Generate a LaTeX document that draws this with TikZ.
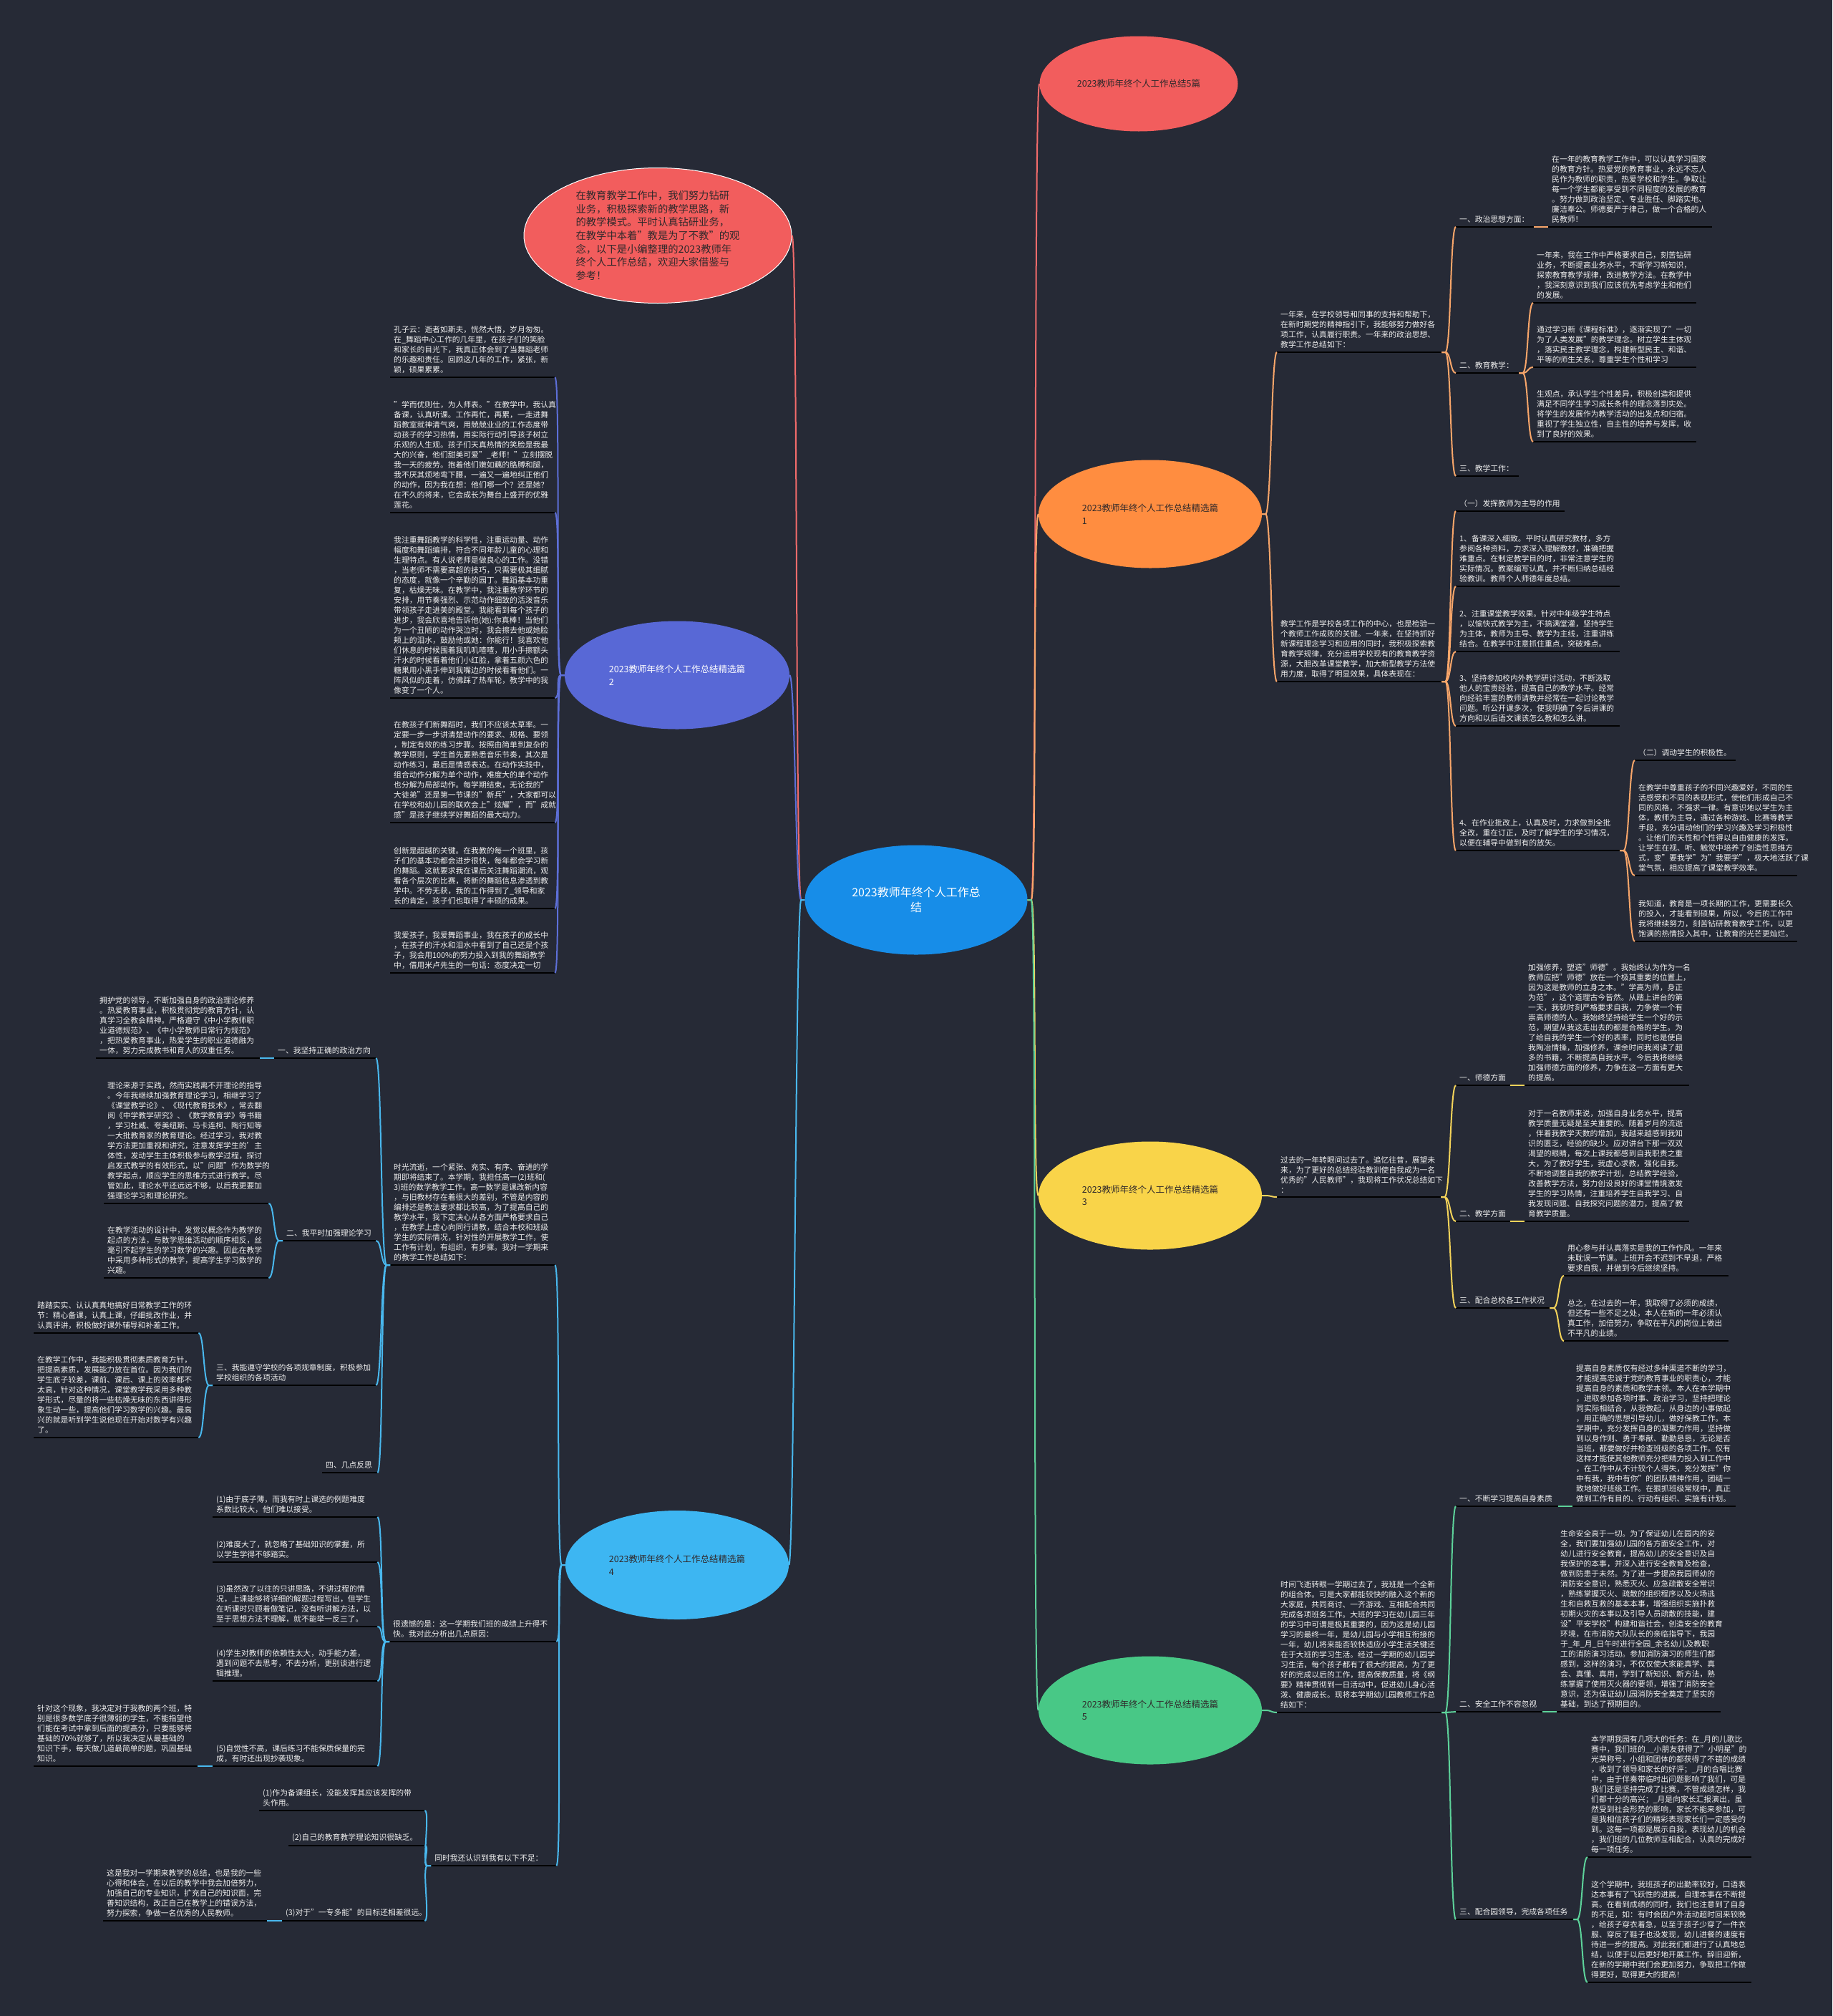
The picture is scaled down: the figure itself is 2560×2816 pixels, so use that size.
\documentclass[tikz,border=0pt]{standalone}
\usepackage{fontspec}
\setmainfont{Noto Sans CJK SC}
\usetikzlibrary{shapes.geometric}
\definecolor{bgcol}{HTML}{262A36}
\definecolor{leaftext}{HTML}{EEEEEE}
\definecolor{darktext}{HTML}{30292B}
\definecolor{cblue}{HTML}{178DE8}
\definecolor{cred}{HTML}{F25D5D}
\definecolor{corange}{HTML}{FF8D40}
\definecolor{cyellow}{HTML}{F9D449}
\definecolor{cgreen}{HTML}{48C886}
\definecolor{cindigo}{HTML}{5868D6}
\definecolor{clblue}{HTML}{3DB6F2}
\definecolor{lred}{HTML}{F26B6B}
\definecolor{lorange}{HTML}{F9A66A}
\definecolor{lyellow}{HTML}{F4D35A}
\definecolor{lgreen}{HTML}{5DD29A}
\definecolor{lindigo}{HTML}{5D6FD8}
\definecolor{llblue}{HTML}{49B8EE}
\newcommand\leaffont{\fontsize{10.8pt}{14pt}\selectfont}
\newcommand\bubfont{\fontsize{12.5pt}{17.5pt}\selectfont}
\newcommand\rootfont{\fontsize{16pt}{21pt}\selectfont}
\newcommand\introfont{\fontsize{14.3pt}{18.7pt}\selectfont}
\tikzset{
  uline/.style={draw=black,line width=2pt},
  leaf/.style={anchor=south west,inner xsep=5pt,inner ysep=5.5pt,
    text width=#1,align=left,font=\leaffont,text=leaftext,
    append after command={(\tikzlastnode.south west) edge[uline]
      (\tikzlastnode.south east)}},
  bub/.style={ellipse,inner sep=0pt,align=left,font=\bubfont,text=darktext},
  linkr/.style={draw=#1,line width=2pt,
    to path={-- ++(5,0) .. controls +(8,0) and +(-8,0) .. (\tikztotarget)}},
  linkl/.style={draw=#1,line width=2pt,
    to path={-- ++(-5,0) .. controls +(-8,0) and +(8,0) .. (\tikztotarget)}},
}
\begin{document}
\begin{tikzpicture}[x=1pt,y=-1pt]
  \fill[bgcol] (0,0) rectangle (2560,2816);
  \useasboundingbox (0,0) rectangle (2560,2816);
  % centre and the seven bubbles
  \node[bub,fill=cblue,minimum width=311pt,minimum height=153pt,align=center,
    font=\rootfont,text=white] (root) at (1280,1257) {2023教师年终个人工作总\\结};
  \node[bub,fill=cred,minimum width=277pt,minimum height=133pt] (b5p) at (1591,117)
    {2023教师年终个人工作总结5篇};
  \node[bub,fill=corange,minimum width=312pt,minimum height=151pt] (b1) at (1607,718)
    {2023教师年终个人工作总结精选篇\\1};
  \node[bub,fill=cyellow,minimum width=312pt,minimum height=151pt] (b3) at (1607,1670)
    {2023教师年终个人工作总结精选篇\\3};
  \node[bub,fill=cgreen,minimum width=312pt,minimum height=151pt] (b5) at (1607,2389)
    {2023教师年终个人工作总结精选篇\\5};
  \node[bub,fill=cred,draw=white,line width=1pt,minimum width=374pt,minimum height=189pt,
    font=\introfont] (intro) at (919,329)
    {在教育教学工作中，我们努力钻研\\业务，积极探索新的教学思路，新\\的教学模式。平时认真钻研业务，\\在教学中本着"教是为了不教"的观\\念，以下是小编整理的2023教师年\\终个人工作总结，欢迎大家借鉴与\\参考！};
  \node[bub,fill=cindigo,minimum width=314pt,minimum height=151pt,text=white] (b2) at (946,943)
    {2023教师年终个人工作总结精选篇\\2};
  \node[bub,fill=clblue,minimum width=312pt,minimum height=152pt] (b4) at (946,2186)
    {2023教师年终个人工作总结精选篇\\4};

  % branch 1
  \node[leaf=220pt] (r1a) at (1784,492) {一年来，在学校领导和同事的支持和帮助下，\\在新时期党的精神指引下，我能够努力做好各\\项工作，认真履行职责。一年来的政治思想、\\教学工作总结如下：};
  \node[leaf=99pt] (r1a1) at (2034,317) {一、政治思想方面：};
  \node[leaf=219pt] (r1a1x) at (2163,317) {在一年的教育教学工作中，可以认真学习国家\\的教育方针。热爱党的教育事业，永远不忘人\\民作为教师的职责，热爱学校和学生。争取让\\每一个学生都能享受到不同程度的发展的教育\\。努力做到政治坚定、专业胜任、脚踏实地、\\廉洁奉公。师德要严于律己，做一个合格的人\\民教师！};
  \node[leaf=78pt] (r1a2) at (2034,521) {二、教育教学：};
  \node[leaf=218pt] (r1a2x) at (2142,423) {一年来，我在工作中严格要求自己，刻苦钻研\\业务，不断提高业务水平，不断学习新知识，\\探索教育教学规律，改进教学方法。在教学中\\，我深刻意识到我们应该优先考虑学生和他们\\的发展。};
  \node[leaf=218pt] (r1a2y) at (2142,513) {通过学习新《课程标准》，逐渐实现了"一切\\为了人类发展"的教学理念。树立学生主体观\\，落实民主教学理念，构建新型民主、和谐、\\平等的师生关系，尊重学生个性和学习};
  \node[leaf=218pt] (r1a2z) at (2142,617) {生观点，承认学生个性差异，积极创造和提供\\满足不同学生学习成长条件的理念落到实处。\\将学生的发展作为教学活动的出发点和归宿。\\重视了学生独立性，自主性的培养与发挥，收\\到了良好的效果。};
  \node[leaf=78pt] (r1a3) at (2034,665) {三、教学工作：};
  \node[leaf=220pt] (r1b) at (1784,952) {教学工作是学校各项工作的中心，也是检验一\\个教师工作成败的关键。一年来，在坚持抓好\\新课程理念学习和应用的同时，我积极探索教\\育教学规律，充分运用学校现有的教育教学资\\源，大胆改革课堂教学，加大新型教学方法使\\用力度，取得了明显效果，具体表现在：};
  \node[leaf=142pt] (r1b1) at (2034,714) {（一）发挥教师为主导的作用};
  \node[leaf=219pt] (r1b2) at (2034,819) {1、备课深入细致。平时认真研究教材，多方\\参阅各种资料，力求深入理解教材，准确把握\\难重点。在制定教学目的时，非常注意学生的\\实际情况。教案编写认真，并不断归纳总结经\\验教训。教师个人师德年度总结。};
  \node[leaf=219pt] (r1b3) at (2034,910) {2、注重课堂教学效果。针对中年级学生特点\\，以愉快式教学为主，不搞满堂灌，坚持学生\\为主体，教师为主导、教学为主线，注重讲练\\结合。在教学中注意抓住重点，突破难点。};
  \node[leaf=219pt] (r1b4) at (2034,1014) {3、坚持参加校内外教学研讨活动，不断汲取\\他人的宝贵经验，提高自己的教学水平。经常\\向经验丰富的教师请教并经常在一起讨论教学\\问题。听公开课多次，使我明确了今后讲课的\\方向和以后语文课该怎么教和怎么讲。};
  \node[leaf=219pt] (r1b5) at (2034,1188) {4、在作业批改上，认真及时，力求做到全批\\全改，重在订正，及时了解学生的学习情况，\\以便在辅导中做到有的放矢。};
  \node[leaf=131pt] (r1b5a) at (2284,1062) {（二）调动学生的积极性。};
  \node[leaf=217pt] (r1b5b) at (2284,1223) {在教学中尊重孩子的不同兴趣爱好，不同的生\\活感受和不同的表现形式，使他们形成自己不\\同的风格，不强求一律。有意识地以学生为主\\体，教师为主导，通过各种游戏、比赛等教学\\手段，充分调动他们的学习兴趣及学习积极性\\。让他们的天性和个性得以自由健康的发挥。\\让学生在视、听、触觉中培养了创造性思维方\\式，变"要我学"为"我要学"，极大地活跃了课\\堂气氛，相应提高了课堂教学效率。};
  \node[leaf=217pt] (r1b5c) at (2284,1315) {我知道，教育是一项长期的工作，更需要长久\\的投入，才能看到硕果，所以，今后的工作中\\我将继续努力，刻苦钻研教育教学工作，以更\\饱满的热情投入其中，让教育的光芒更灿烂。};

  % branch 3
  \node[leaf=219pt] (r3a) at (1784,1672) {过去的一年转眼间过去了。追忆往昔，展望未\\来，为了更好的总结经验教训使自我成为一名\\优秀的"人民教师"，我现将工作状况总结如下\\：};
  \node[leaf=66pt] (r3a1) at (2034,1516) {一、师德方面};
  \node[leaf=220pt] (r3a1x) at (2130,1516) {加强修养，塑造"师德"。我始终认为作为一名\\教师应把"师德"放在一个极其重要的位置上，\\因为这是教师的立身之本。"学高为师，身正\\为范"，这个道理古今皆然。从踏上讲台的第\\一天，我就时刻严格要求自我，力争做一个有\\崇高师德的人。我始终坚持给学生一个好的示\\范，期望从我这走出去的都是合格的学生。为\\了给自我的学生一个好的表率，同时也是使自\\我陶冶情操，加强修养，课余时间我阅读了超\\多的书籍，不断提高自我水平。今后我将继续\\加强师德方面的修养，力争在这一方面有更大\\的提高。};
  \node[leaf=66pt] (r3a2) at (2034,1706) {二、教学方面};
  \node[leaf=220pt] (r3a2x) at (2130,1706) {对于一名教师来说，加强自身业务水平，提高\\教学质量无疑是至关重要的。随着岁月的流逝\\，伴着我教学天数的增加，我越来越感到我知\\识的匮乏，经验的缺少。应对讲台下那一双双\\渴望的眼睛，每次上课我都感到自我职责之重\\大，为了教好学生，我虚心求教，强化自我。\\不断地调整自我的教学计划，总结教学经验，\\改善教学方法，努力创设良好的课堂情境激发\\学生的学习热情，注重培养学生自我学习、自\\我发现问题、自我探究问题的潜力，提高了教\\育教学质量。};
  \node[leaf=121pt] (r3a3) at (2034,1827) {三、配合总校各工作状况};
  \node[leaf=220pt] (r3a3x) at (2185,1782) {用心参与并认真落实是我的工作作风。一年来\\未耽误一节课。上班开会不迟到不早退，严格\\要求自我，并做到今后继续坚持。};
  \node[leaf=220pt] (r3a3y) at (2185,1873) {总之，在过去的一年，我取得了必须的成绩，\\但还有一些不足之处，本人在新的一年必须认\\真工作，加倍努力，争取在平凡的岗位上做出\\不平凡的业绩。};

  % branch 5
  \node[leaf=220pt] (r5a) at (1784,2392) {时间飞逝转眼一学期过去了，我班是一个全新\\的组合体。可是大家都能较快的融入这个新的\\大家庭，共同商讨、一齐游戏、互相配合共同\\完成各项班务工作。大班的学习在幼儿园三年\\的学习中可谓是极其重要的，因为这是幼儿园\\学习的最终一年，是幼儿园与小学相互衔接的\\一年，幼儿将来能否较快适应小学生活关键还\\在于大班的学习生活。经过一学期的幼儿园学\\习生活，每个孩子都有了很大的提高，为了更\\好的完成以后的工作，提高保教质量，将《纲\\要》精神贯彻到一日活动中，促进幼儿身心活\\泼、健康成长。现将本学期幼儿园教师工作总\\结如下：};
  \node[leaf=133pt] (r5a1) at (2034,2104) {一、不断学习提高自身素质};
  \node[leaf=218pt] (r5a1x) at (2197,2104) {提高自身素质仅有经过多种渠道不断的学习，\\才能提高忠诚于党的教育事业的职责心，才能\\提高自身的素质和教学本领。本人在本学期中\\，进取参加各项时事、政治学习，坚持把理论\\同实际相结合，从我做起，从身边的小事做起\\，用正确的思想引导幼儿，做好保教工作。本\\学期中，充分发挥自身的凝聚力作用，坚持做\\到以身作则、勇于奉献、勤勤恳恳，无论是否\\当班，都要做好并检查班级的各项工作。仅有\\这样才能使其他教师充分把精力投入到工作中\\，在工作中从不计较个人得失，充分发挥"你\\中有我，我中有你"的团队精神作用，团结一\\致地做好班级工作。在狠抓班级常规中，真正\\做到工作有目的、行动有组织、实施有计划。};
  \node[leaf=111pt] (r5a2) at (2034,2391) {二、安全工作不容忽视};
  \node[leaf=219pt] (r5a2x) at (2175,2391) {生命安全高于一切。为了保证幼儿在园内的安\\全，我们要加强幼儿园的各方面安全工作，对\\幼儿进行安全教育，提高幼儿的安全意识及自\\我保护的本事，并深入进行安全教育及检查，\\做到防患于未然。为了进一步提高我园师幼的\\消防安全意识，熟悉灭火、应急疏散安全常识\\，熟练掌握灭火、疏散的组织程序以及火场逃\\生和自救互救的基本本事，增强组织实施扑救\\初期火灾的本事以及引导人员疏散的技能，建\\设"平安学校"构建和谐社会，创造安全的教育\\环境，在市消防大队队长的亲临指导下，我园\\于\_年\_月\_日午时进行全园\_余名幼儿及教职\\工的消防演习活动。参加消防演习的师生们都\\感到，这样的演习，不仅仅使大家能真学、真\\会、真懂、真用，学到了新知识、新方法，熟\\练掌握了使用灭火器的要领，增强了消防安全\\意识，还为保证幼儿园消防安全奠定了坚实的\\基础，到达了预期目的。};
  \node[leaf=154pt] (r5a3) at (2034,2681) {三、配合园领导，完成各项任务};
  \node[leaf=219pt] (r5a3x) at (2218,2594) {本学期我园有几项大的任务：在\_月的儿歌比\\赛中，我们班的\_\_小朋友获得了"小明星"的\\光荣称号，小组和团体的都获得了不错的成绩\\，收到了领导和家长的好评；\_月的合唱比赛\\中，由于伴奏带临时出问题影响了我们，可是\\我们还是坚持完成了比赛，不管成绩怎样，我\\们都十分的高兴；\_月是向家长汇报演出，虽\\然受到社会形势的影响，家长不能来参加，可\\是我相信孩子们的精彩表现家长们一定感受的\\到。这每一项都是展示自我，表现幼儿的机会\\，我们班的几位教师互相配合，认真的完成好\\每一项任务。};
  \node[leaf=219pt] (r5a3y) at (2218,2769) {这个学期中，我班孩子的出勤率较好，口语表\\达本事有了飞跃性的进展，自理本事在不断提\\高。在看到成绩的同时，我们也注意到了自身\\的不足，如：有时会因户外活动超时回来较晚\\，给孩子穿衣着急，以至于孩子少穿了一件衣\\服、穿反了鞋子也没发现，幼儿进餐的速度有\\待进一步的提高。对此我们都进行了认真地总\\结，以便于以后更好地开展工作。辞旧迎新，\\在新的学期中我们会更加努力，争取把工作做\\得更好，取得更大的提高！};

  % branch 2
  \node[leaf=220pt] (l2a) at (545,527) {孔子云：逝者如斯夫，恍然大悟，岁月匆匆。\\在\_舞蹈中心工作的几年里，在孩子们的笑脸\\和家长的目光下，我真正体会到了当舞蹈老师\\的乐趣和责任。回顾这几年的工作，紧张，新\\颖，硕果累累。};
  \node[leaf=220pt] (l2b) at (545,716) {"学而优则仕，为人师表。"在教学中，我认真\\备课，认真听课。工作再忙，再累，一走进舞\\蹈教室就神清气爽，用兢兢业业的工作态度带\\动孩子的学习热情，用实际行动引导孩子树立\\乐观的人生观。孩子们天真热情的笑脸是我最\\大的兴奋，他们甜美可爱"\_老师！"立刻摆脱\\我一天的疲劳。抱着他们嫩如藕的胳膊和腿，\\我不厌其烦地弯下腰，一遍又一遍地纠正他们\\的动作，因为我在想：他们哪一个？还是她？\\在不久的将来，它会成长为舞台上盛开的优雅\\莲花。};
  \node[leaf=220pt] (l2c) at (545,975) {我注重舞蹈教学的科学性，注重运动量、动作\\幅度和舞蹈编排，符合不同年龄儿童的心理和\\生理特点。有人说老师是做良心的工作。没错\\，当老师不需要高超的技巧，只需要极其细腻\\的态度，就像一个辛勤的园丁。舞蹈基本功重\\复，枯燥无味。在教学中，我注重教学环节的\\安排，用节奏强烈、示范动作细致的活泼音乐\\带领孩子走进美的殿堂。我能看到每个孩子的\\进步，我会欣喜地告诉他(她):你真棒！当他们\\为一个丑陋的动作哭泣时，我会擦去他或她脸\\颊上的泪水，鼓励他或她：你能行！我喜欢他\\们休息的时候围着我叽叽喳喳，用小手擦额头\\汗水的时候看着他们小红脸，拿着五颜六色的\\糖果用小黑手伸到我嘴边的时候看着他们。一\\阵风似的走着，仿佛踩了热车轮，教学中的我\\像变了一个人。};
  \node[leaf=220pt] (l2d) at (545,1149) {在教孩子们新舞蹈时，我们不应该太草率。一\\定要一步一步讲清楚动作的要求、规格、要领\\，制定有效的练习步骤。按照由简单到复杂的\\教学原则，学生首先要熟悉音乐节奏，其次是\\动作练习，最后是情感表达。在动作实践中，\\组合动作分解为单个动作，难度大的单个动作\\也分解为局部动作。每学期结束，无论我的"\\大徒弟"还是第一节课的"新兵"，大家都可以\\在学校和幼儿园的联欢会上"炫耀"，而"成就\\感"是孩子继续学好舞蹈的最大动力。};
  \node[leaf=220pt] (l2e) at (545,1269) {创新是超越的关键。在我教的每一个班里，孩\\子们的基本功都会进步很快，每年都会学习新\\的舞蹈。这就要求我在课后关注舞蹈潮流，观\\看各个层次的比赛，将新的舞蹈信息渗透到教\\学中。不劳无获，我的工作得到了\_领导和家\\长的肯定，孩子们也取得了丰硕的成果。};
  \node[leaf=220pt] (l2f) at (545,1359) {我爱孩子，我爱舞蹈事业，我在孩子的成长中\\，在孩子的汗水和泪水中看到了自己还是个孩\\子，我会用100\%的努力投入到我的舞蹈教学\\中，借用米卢先生的一句话：态度决定一切};

  % branch 4
  \node[leaf=220pt] (d1) at (545,1767) {时光流逝，一个紧张、充实、有序、奋进的学\\期即将结束了。本学期，我担任高一(2)班和(\\3)班的数学教学工作。高一数学是课改新内容\\，与旧教材存在着很大的差别，不管是内容的\\编排还是教法要求都比较高，为了提高自己的\\教学水平，我下定决心从各方面严格要求自己\\，在教学上虚心向同行请教，结合本校和班级\\学生的实际情况，针对性的开展教学工作，使\\工作有计划，有组织，有步骤。我对一学期来\\的教学工作总结如下：};
  \node[leaf=132pt] (e1) at (383,1478) {一、我坚持正确的政治方向};
  \node[leaf=219pt] (f1) at (134,1478) {拥护党的领导，不断加强自身的政治理论修养\\。热爱教育事业，积极贯彻党的教育方针，认\\真学习全教会精神。严格遵守《中小学教师职\\业道德规范》、《中小学教师日常行为规范》\\，把热爱教育事业，热爱学生的职业道德融为\\一体，努力完成教书和育人的双重任务。};
  \node[leaf=120pt] (e2) at (395,1733) {二、我平时加强理论学习};
  \node[leaf=220pt] (f2) at (145,1681) {理论来源于实践，然而实践离不开理论的指导\\。今年我继续加强教育理论学习，相继学习了\\《课堂教学论》、《现代教育技术》，常去翻\\阅《中学教学研究》、《数学教育学》等书籍\\，学习杜威、夸美纽斯、马卡连柯、陶行知等\\一大批教育家的教育理论。经过学习，我对教\\学方法更加重视和讲究，注意发挥学生的'主\\体性，发动学生主体积极参与教学过程，探讨\\启发式教学的有效形式，以"问题"作为数学的\\教学起点，顺应学生的思维方式进行教学。尽\\管如此，理论水平还远远不够，以后我更要加\\强理论学习和理论研究。};
  \node[leaf=220pt] (f3) at (145,1785) {在教学活动的设计中，发觉以概念作为教学的\\起点的方法，与数学思维活动的顺序相反，丝\\毫引不起学生的学习数学的兴趣。因此在教学\\中采用多种形式的教学，提高学生学习数学的\\兴趣。};
  \node[leaf=218pt] (e3) at (297,1935) {三、我能遵守学校的各项规章制度，积极参加\\学校组织的各项活动};
  \node[leaf=220pt] (f4) at (47,1862) {踏踏实实、认认真真地搞好日常教学工作的环\\节：精心备课，认真上课，仔细批改作业，并\\认真评讲，积极做好课外辅导和补差工作。};
  \node[leaf=220pt] (f5) at (47,2008) {在教学工作中，我能积极贯彻素质教育方针，\\把提高素质，发展能力放在首位。因为我们的\\学生底子较差，课前、课后、课上的效率都不\\太高，针对这种情况，课堂教学我采用多种教\\学形式，尽量的将一些枯燥无味的东西讲得形\\象生动一些，提高他们学习数学的兴趣。最高\\兴的就是听到学生说他现在开始对数学有兴趣\\了。};
  \node[leaf=67pt] (e4) at (450,2057) {四、几点反思};
  \node[leaf=223pt] (e5) at (544,2293) {很遗憾的是：这一学期我们班的成绩上升得不\\快。我对此分析出几点原因：};
  \node[leaf=220pt] (g1) at (297,2119) {(1)由于底子薄，而我有时上课选的例题难度\\系数比较大，他们难以接受。};
  \node[leaf=220pt] (g2) at (297,2182) {(2)难度大了，就忽略了基础知识的掌握，所\\以学生学得不够踏实。};
  \node[leaf=220pt] (g3) at (297,2272) {(3)虽然改了以往的只讲思路，不讲过程的情\\况，上课能够将详细的解题过程写出，但学生\\在听课时只顾着做笔记，没有听讲解方法，以\\至于思想方法不理解，就不能举一反三了。};
  \node[leaf=220pt] (g4) at (297,2348) {(4)学生对教师的依赖性太大，动手能力差，\\遇到问题不去思考，不去分析，更别谈进行逻\\辑推理。};
  \node[leaf=220pt] (g5) at (297,2467) {(5)自觉性不高，课后练习不能保质保量的完\\成，有时还出现抄袭现象。};
  \node[leaf=219pt] (h1) at (47,2467) {针对这个现象，我决定对于我教的两个班，特\\别是很多数学底子很薄弱的学生，不能指望他\\们能在考试中拿到后面的提高分，只要能够将\\基础的70\%就够了，所以我决定从最基础的\\知识下手，每天做几道最简单的题，巩固基础\\知识。};
  \node[leaf=165pt] (e6) at (602,2606) {同时我还认识到我有以下不足：};
  \node[leaf=221pt] (g6) at (362,2529) {(1)作为备课组长，没能发挥其应该发挥的带\\头作用。};
  \node[leaf=180pt] (g7) at (403,2578) {(2)自己的教育教学理论知识很缺乏。};
  \node[leaf=189pt] (g8) at (394,2683) {(3)对于"一专多能"的目标还相差很远。};
  \node[leaf=219pt] (h2) at (144,2683) {这是我对一学期来教学的总结，也是我的一些\\心得和体会，在以后的教学中我会加倍努力，\\加强自己的专业知识，扩充自己的知识面，完\\善知识结构，改正自己在教学上的错误方法，\\努力探索，争做一名优秀的人民教师。};

  % links from the centre
  \draw[linkr=lred] (root.east) to (b5p.west);
  \draw[linkr=lorange] (root.east) to (b1.west);
  \draw[linkr=lyellow] (root.east) to (b3.west);
  \draw[linkr=lgreen] (root.east) to (b5.west);
  \draw[linkl=lred] (root.west) to (intro.east);
  \draw[linkl=lindigo] (root.west) to (b2.east);
  \draw[linkl=llblue] (root.west) to (b4.east);

  % links, branch 1
  \foreach \t in {r1a,r1b} \draw[linkr=lorange] (b1.east) to (\t.south west);
  \foreach \t in {r1a1,r1a2,r1a3} \draw[linkr=lorange] (r1a.south east) to (\t.south west);
  \draw[linkr=lorange] (r1a1.south east) to (r1a1x.south west);
  \foreach \t in {r1a2x,r1a2y,r1a2z} \draw[linkr=lorange] (r1a2.south east) to (\t.south west);
  \foreach \t in {r1b1,r1b2,r1b3,r1b4,r1b5} \draw[linkr=lorange] (r1b.south east) to (\t.south west);
  \foreach \t in {r1b5a,r1b5b,r1b5c} \draw[linkr=lorange] (r1b5.south east) to (\t.south west);

  % links, branch 3
  \draw[linkr=lyellow] (b3.east) to (r3a.south west);
  \foreach \t in {r3a1,r3a2,r3a3} \draw[linkr=lyellow] (r3a.south east) to (\t.south west);
  \draw[linkr=lyellow] (r3a1.south east) to (r3a1x.south west);
  \draw[linkr=lyellow] (r3a2.south east) to (r3a2x.south west);
  \foreach \t in {r3a3x,r3a3y} \draw[linkr=lyellow] (r3a3.south east) to (\t.south west);

  % links, branch 5
  \draw[linkr=lgreen] (b5.east) to (r5a.south west);
  \foreach \t in {r5a1,r5a2,r5a3} \draw[linkr=lgreen] (r5a.south east) to (\t.south west);
  \draw[linkr=lgreen] (r5a1.south east) to (r5a1x.south west);
  \draw[linkr=lgreen] (r5a2.south east) to (r5a2x.south west);
  \foreach \t in {r5a3x,r5a3y} \draw[linkr=lgreen] (r5a3.south east) to (\t.south west);

  % links, branch 2
  \foreach \t in {l2a,l2b,l2c,l2d,l2e,l2f} \draw[linkl=lindigo] (b2.west) to (\t.south east);

  % links, branch 4
  \foreach \t in {d1,e5,e6} \draw[linkl=llblue] (b4.west) to (\t.south east);
  \foreach \t in {e1,e2,e3,e4} \draw[linkl=llblue] (d1.south west) to (\t.south east);
  \draw[linkl=llblue] (e1.south west) to (f1.south east);
  \foreach \t in {f2,f3} \draw[linkl=llblue] (e2.south west) to (\t.south east);
  \foreach \t in {f4,f5} \draw[linkl=llblue] (e3.south west) to (\t.south east);
  \foreach \t in {g1,g2,g3,g4,g5} \draw[linkl=llblue] (e5.south west) to (\t.south east);
  \draw[linkl=llblue] (g5.south west) to (h1.south east);
  \foreach \t in {g6,g7,g8} \draw[linkl=llblue] (e6.south west) to (\t.south east);
  \draw[linkl=llblue] (g8.south west) to (h2.south east);
\end{tikzpicture}
\end{document}
